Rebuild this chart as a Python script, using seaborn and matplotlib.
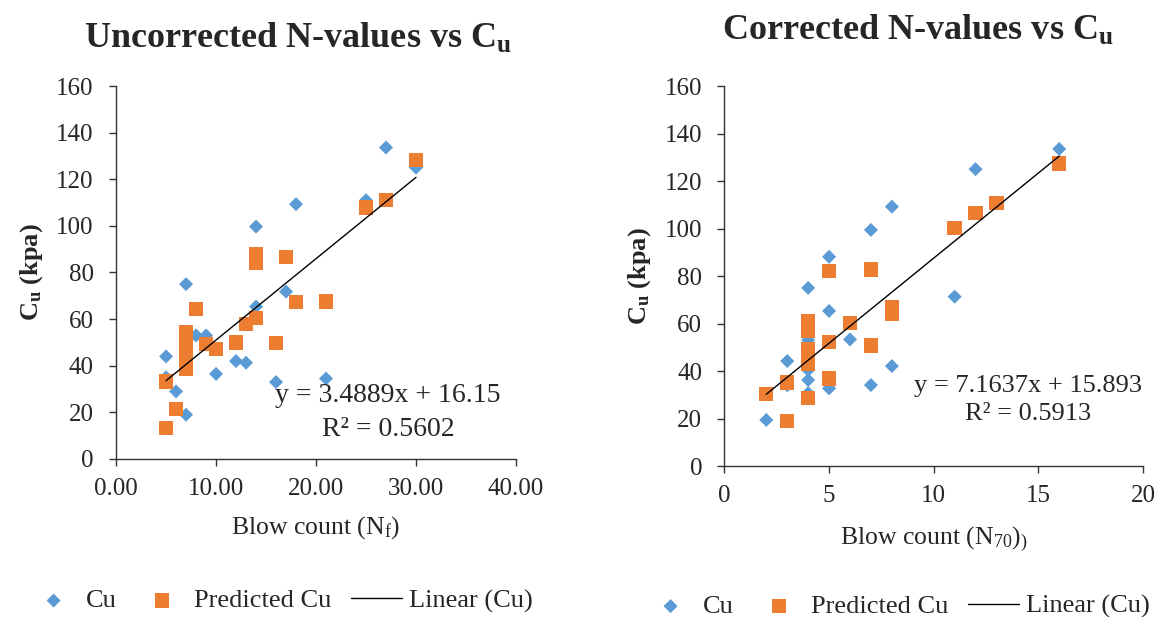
import matplotlib
matplotlib.use('Agg')
import matplotlib.pyplot as plt
import seaborn as sns
import numpy as np
import pandas as pd

# Uncorrected chart (N_f)
unc_cu_n = [5, 5, 6, 7, 7, 8, 9, 10, 12, 13, 14, 14, 16, 17, 18, 21, 25, 27, 30]
unc_cu = [44, 35, 29, 75, 19, 53, 53, 36.5, 42, 41.3, 99.7, 65.4, 33, 71.8, 109.3, 34.5, 111, 133.6, 125]
unc_pred_n = [5, 5, 6, 7, 7, 7, 7, 7, 8, 9, 10, 12, 13, 14, 14, 14, 16, 17, 18, 21, 25, 27, 30]
unc_pred = [13.2, 33.2, 21.3, 38.5, 44, 47, 51, 54.5, 64.2, 49.2, 47.2, 50, 57.8, 60.6, 84, 88, 49.8, 86.5, 67.2, 67.5, 107.9, 111.1, 128.3]
unc_fit = (3.4889, 16.15)
unc_r2 = 0.5602

# Corrected chart (N_70)
cor_cu_n = [2, 3, 3, 4, 4, 4, 4, 4, 5, 5, 5, 6, 7, 7, 8, 8, 11, 12, 16]
cor_cu = [19.4, 44.2, 34, 75, 53, 40.4, 36.2, 30.7, 88.1, 65.3, 32.7, 53.3, 99.4, 34.1, 109.2, 42.1, 71.3, 125, 133.5]
cor_pred_n = [2, 3, 3, 4, 4, 4, 4, 4, 4, 5, 5, 5, 6, 7, 7, 8, 8, 11, 12, 13, 16]
cor_pred = [30.3, 19.1, 35.2, 28.5, 43, 46, 49, 57, 61, 82.2, 52.3, 36.9, 60.1, 82.8, 50.7, 67, 64, 100.3, 106.4, 110.6, 127.4]
cor_fit = (7.1637, 15.893)
cor_r2 = 0.5913

BLUE = '#5B9BD5'
ORANGE = '#ED7D31'

sns.set_style("white")
plt.rcParams['font.family'] = ['Liberation Serif', 'DejaVu Serif']
plt.rcParams['mathtext.fontset'] = 'custom'
plt.rcParams['mathtext.rm'] = 'Liberation Serif'
plt.rcParams['mathtext.it'] = 'Liberation Serif:italic'
plt.rcParams['mathtext.bf'] = 'Liberation Serif:bold'


def draw_panel(ax, cu_n, cu, pred_n, pred, fit, r2):
    sns.scatterplot(x=cu_n, y=cu, marker='D', s=51, color=BLUE, edgecolor='none',
                    label='Cu', legend=False, ax=ax, zorder=3)
    sns.scatterplot(x=pred_n, y=pred, marker='s', s=106, color=ORANGE, edgecolor='none',
                    label='Predicted Cu', legend=False, ax=ax, zorder=4)
    xs = np.array([min(cu_n), max(cu_n)])
    fit_df = pd.DataFrame({'x': xs, 'y': fit[0] * xs + fit[1]})
    sns.lineplot(data=fit_df, x='x', y='y', color='black', linewidth=1,
                 label='Linear (Cu)', legend=False, ax=ax, zorder=5)
    ax.set_ylim(0, 160)
    ax.set_yticks(range(0, 161, 20))
    sns.despine(ax=ax)
    for sp in ['left', 'bottom']:
        ax.spines[sp].set_color('#333333')
        ax.spines[sp].set_linewidth(1)
    ax.tick_params(axis='both', which='both', direction='out', length=5, width=1,
                   color='#333333', labelsize=18, left=True, bottom=True)
    ax.tick_params(axis='y', pad=11)
    ax.tick_params(axis='x', pad=9)
    ax.set_ylabel(r'$\mathbf{C_u}$ (kpa)', fontsize=19, fontweight='bold')
    return f"y = {fit[0]:.4f}x + {fit[1]:g}\nR² = {r2:.4f}"


fig = plt.figure(figsize=(11.64, 6.17), dpi=100)
ax1 = fig.add_axes([0.0997, 0.2561, 0.3436, 0.6045])
ax2 = fig.add_axes([0.6224, 0.2447, 0.3595, 0.6159])

# Left panel
eq1 = draw_panel(ax1, unc_cu_n, unc_cu, unc_pred_n, unc_pred, unc_fit, unc_r2)
ax1.set_xlim(0, 40)
ax1.set_xticks(range(0, 41, 10))
ax1.set_xticklabels([f"{v:.2f}" for v in range(0, 41, 10)])
ax1.set_xlabel(r'Blow count (N$_\mathrm{f}$)', fontsize=18.5)
ax1.xaxis.set_label_coords(0.5, -0.148)
ax1.yaxis.set_label_coords(-0.178, 0.5)
ax1.text(0.68, 0.125, eq1, transform=ax1.transAxes, fontsize=20,
         ha='center', va='center', linespacing=1.45)
fig.text(0.256, 0.923, r'Uncorrected N-values vs C$_\mathbf{u}$', fontsize=26,
         fontweight='bold', ha='center', va='baseline')

# Right panel
eq2 = draw_panel(ax2, cor_cu_n, cor_cu, cor_pred_n, cor_pred, cor_fit, cor_r2)
ax2.set_xlim(0, 20)
ax2.set_xticks(range(0, 21, 5))
ax2.set_xlabel(r'Blow count (N$_{70}$)$_)$', fontsize=18.5)
ax2.xaxis.set_label_coords(0.5, -0.155)
ax2.yaxis.set_label_coords(-0.171, 0.5)
ax2.text(0.725, 0.174, eq2, transform=ax2.transAxes, fontsize=19,
         ha='center', va='center', linespacing=1.38)
fig.text(0.789, 0.936, r'Corrected N-values vs C$_\mathbf{u}$', fontsize=26,
         fontweight='bold', ha='center', va='baseline')

for ax, xc, yc in [(ax1, 0.241, 0.026), (ax2, 0.771, 0.017)]:
    h, l = ax.get_legend_handles_labels()
    fig.legend(h, l, loc='center', bbox_to_anchor=(xc, yc), ncol=3, frameon=False,
               fontsize=19, handlelength=1.9, columnspacing=0.76, handletextpad=0.27,
               borderpad=0.2)

plt.savefig('out.png', dpi=100)
plt.close()
